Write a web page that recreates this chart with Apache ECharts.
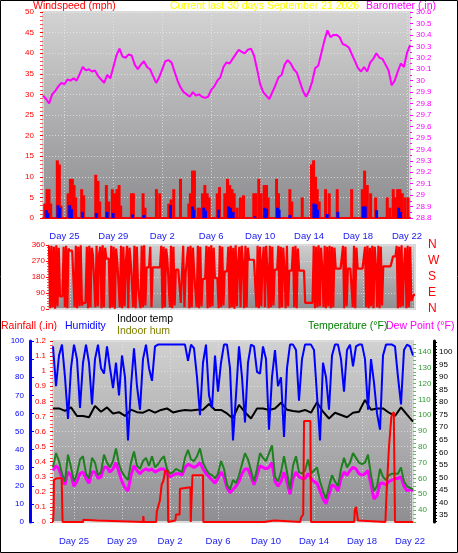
<!DOCTYPE html>
<html><head><meta charset="utf-8">
<script src="https://cdn.jsdelivr.net/npm/echarts@6/dist/echarts.min.js"></script>
<style>html,body{margin:0;padding:0;background:#fff;}#c{width:458px;height:553px;}</style>
</head><body><div id="c"></div>
<script>
// ---------- data (x = days since start of the 30-day window) ----------
const dayLabels = ['Day 25','Day 29','Day 2','Day 6','Day 10','Day 14','Day 18','Day 22'];
const dayTickPos = [1.75,5.75,9.75,13.75,17.75,21.75,25.75,29.75];
const dirNames = {0:'N',90:'E',180:'S',270:'W',360:'N'};
const tempTicks = [40,50,60,70,80,90,100,110,120,130,140];
const indoorTicks = [35,40,45,50,55,60,65,70,75,80,85,90,95,100];

// wind gust spikes [day, mph]
const gustMph = [[0.14,3.5],[0.33,7],[0.49,7],[0.63,3.5],[1.17,14],[1.34,13],[1.47,3],[2.05,6],[2.24,9.5],[2.4,9.5],[2.54,8],[2.67,5],
[3.16,7],[3.33,5.5],[4.31,10.5],[4.5,9],[4.64,4],[5.18,8],[5.37,4],[5.67,7],[5.86,6],[6.05,7],[6.22,8],[6.35,3],[7.23,6],[7.39,6],
[8.18,6],[8.34,2.5],[9.27,7],[9.54,6],[10.28,3.5],[10.47,4.5],[10.69,7],[11.24,9.5],[11.92,3.5],[12.05,6],[12.22,11.5],[12.38,11.5],
[12.68,2.5],[12.87,2.5],[13.04,6],[13.23,8],[13.42,6],[13.58,5],[14.24,6],[14.43,7.5],[14.86,6],[15.08,9.5],[15.27,8],[15.46,7],
[15.63,6],[15.87,2.5],[16.14,5],[16.39,5.5],[17.23,6],[17.4,6],[17.64,9.5],[17.83,6],[18.08,8],[18.27,8],[18.41,5],[19.09,9.5],
[19.25,6],[20.18,7],[20.34,4],[21.19,5],[21.95,13],[22.12,14],[22.28,10],[22.42,7],[22.58,4],[23.1,7],[23.4,6],[24.05,7],[25.23,7],
[26.1,7],[26.29,11.5],[26.51,8],[26.78,6],[27.19,5],[28.14,5],[28.36,2.5],[28.63,7],[28.8,5],[28.99,7],[29.18,7],[29.37,6],[29.59,5],[29.84,5]];
// average wind [day, mph]
const avgMph = [[0.27,1.9],[0.41,1.2],[1.23,3.1],[1.36,2.5],[2.18,3.1],[2.32,2.2],[3.22,1.5],[4.36,1.2],[5.24,1.5],[5.73,1.2],[7.31,0.9],
[8.24,0.7],[10.42,3.1],[12.22,2.8],[12.33,2],[13.14,2.5],[13.28,1.8],[14.34,2],[15.16,2.8],[15.33,2.5],[15.54,1.5],[17.3,0.4],
[18.13,2.5],[18.27,2.2],[19.17,2.5],[19.3,2],[20.18,0.7],[22.14,3.5],[22.31,3.3],[22.44,2],[23.23,1],[24.1,1.5],[26.18,2.8],
[26.34,2.8],[27.27,1.9],[29.07,2.5],[29.23,1.5]];
// barometer, one reading every 0.25 day
const baroIn = [29.87,29.84,29.80,29.88, 29.91,29.95,29.98,29.97, 30.01,30.00,30.02,30.00, 30.06,30.12,30.09,30.10,
30.08,30.09,30.04,30.01, 29.98,30.05,30.02,30.12, 30.22,30.28,30.21,30.20, 30.23,30.22,30.14,30.10,
30.14,30.17,30.12,30.10, 30.04,29.98,30.03,30.10, 30.17,30.18,30.16,30.08, 30.00,29.94,29.90,29.88,
29.86,29.90,29.87,29.88, 29.86,29.85,29.86,29.92, 29.95,30.00,30.03,30.12, 30.16,30.15,30.19,30.23,
30.27,30.25,30.24,30.27, 30.28,30.22,30.10,29.97, 29.90,29.87,29.84,29.90, 29.96,30.03,30.05,30.14,
30.18,30.15,30.10,30.07, 29.99,29.91,29.86,29.91, 29.99,30.11,30.13,30.24, 30.35,30.44,30.38,30.40,
30.40,30.38,30.32,30.31, 30.29,30.23,30.17,30.11, 30.08,30.12,30.08,30.16, 30.19,30.24,30.20,30.19,
30.14,30.09,29.96,30.00, 30.08,30.15,30.12,30.24, 30.31];
// wind direction (degrees), one reading every 0.1 day
const windDirDeg = [
355,5,355,10,350,2,358,15,345,71, 71,71,350,10,355,5,340,328,328,328,
328,10,355,5,350,15,358,20,34,34, 34,350,5,355,10,345,305,305,10,355,
15,305,350,5,358,10,345,283,283,283, 5,355,10,350,2,340,264,264,10,355,
5,350,15,264,355,5,345,264,264,10, 355,5,350,122,122,5,355,10,358,20,
234,234,234,350,10,234,234,234,234,234, 234,234,355,5,350,10,340,283,283,10,
355,5,350,20,221,221,221,221,34,34, 355,10,202,202,350,5,355,10,345,202,
202,10,355,5,350,15,170,170,170,355, 5,350,10,358,15,345,174,174,174,5,
355,10,350,20,212,212,212,350,5,355, 10,345,2,358,15,259,350,10,355,259,
5,355,10,345,277,277,277,277,277,277, 10,355,5,350,15,270,350,10,355,221,
5,355,10,350,20,221,221,221,355,5, 350,10,345,221,5,355,15,216,216,216,
350,10,355,5,340,216,216,216,216,216, 34,34,34,34,34,34,34,355,5,350,
10,358,15,345,227,10,355,5,350,15, 355,5,350,10,345,227,227,227,227,227,
227,355,5,350,15,227,227,227,227,10, 355,5,345,227,227,227,227,227,227,350,
10,355,5,345,15,355,5,350,240,10, 355,5,350,20,240,240,240,240,240,240,
240,240,296,296,296,355,5,350,10,358, 15,240,345,5,355,10,350,45,45,80, 80];
// humidity %, every 0.25 day
const humidityPct = [97,75,92,98, 80,57,85,98, 90,63,88,98, 88,65,90,98, 85,82,97,85, 74,88,70,92, 80,45,75,96, 75,62,90,98,
85,78,97,98, 98,98,98,98, 98,98,98,98, 98,89,98,96, 80,59,88,98, 70,63,92,72, 88,98,98,85, 45,70,97,80, 55,88,98,97,
83,82,97,90, 51,80,95,75, 80,47,85,98, 98,95,67,90, 98,98,98,95, 70,45,88,80, 62,92,98,98, 90,72,95,98, 86,97,98,98,
90,62,90,77, 60,51,92,98, 98,98,97,80, 65,95,98,97, 92];
// indoor temperature °F, every 0.5 day
const indoorTempF = [77.5,77.5,76.5,77.9,74.5,74.5,74,78.5,76.2,77.9,75.5,76,74.5,77,76,75.8,76.9,75.8,76.9,77.5,75.9,76.5,
76.9,76.7,77,77,79.3,76.9,76.9,75.5,73.5,78.9,76,73.5,77.5,77.5,76.9,77.5,79.8,77,76.5,76.2,76.9,75.8,80,76.2,73.5,75.8,
74.9,74,75.8,76.2,80.9,77,77.5,77.5,75.8,74.5,77.9,75,72.2];
// outdoor temperature °F, every 0.25 day
const tempF = [67,76,71,63, 58,75,67,58, 63,72,74,63, 60,73,70,62, 64,75,70,67, 71,79,69,64, 61,59,70,77, 68,66,71,73,
68,74,67,69, 72,74,66,63, 64,66,65,64, 73,78,72,71, 74,79,70,66, 63,62,60,63, 71,66,56,53, 59,57,62,69, 76,72,65,58,
66,76,73,71, 76,81,61,58, 64,74,64,53, 68,74,64,63, 65,72,63,65, 67,58,52,47, 55,62,58,55, 66,73,67,70, 76,73,70,69,
70,75,62,52, 55,66,61,59, 62,63,63,63, 67,58,55,54, 53];
// dew point °F, every 0.25 day
const dewPointF = [65,68,66,60, 56,64,62,55, 58,63,64,60, 57,64,64,60, 61,67,67,64, 66,70,64,58, 54,52,62,68, 65,63,65,66,
65,66,64,65, 66,66,63,61, 62,63,63,62, 67,69,68,67, 68,70,66,63, 61,59,57,60, 64,61,54,51, 53,55,58,63, 66,66,61,56,
62,68,67,66, 67,70,58,55, 58,64,58,50, 60,64,61,60, 60,63,60,58, 57,52,47,44, 50,56,55,52, 60,64,62,65, 67,66,63,62,
63,65,56,47, 49,57,57,56, 58,59,60,60, 61,55,52,53, 52];
// rainfall (in) [day, inches]
const rainIn = [[0,0],[0.03,0],[0.05,0.07],[0.08,0.28],[0.3,0.29],[0.72,0.29],[0.8,0],[2.5,0],[2.53,0.015],[2.67,0.01],[3.64,0.01],
[3.7,0],[7.5,0],[7.53,0.04],[7.57,0],[8.6,0],[8.65,0.07],[8.9,0.14],[9.06,0.25],[9.19,0.27],[9.35,0.34],[9.55,0.34],[9.6,0],
[9.65,0.01],[10.2,0.01],[10.25,0.05],[10.55,0.05],[10.58,0.22],[10.7,0.23],[11.45,0.23],[11.48,0],[11.58,0],[11.62,0.31],
[12.5,0.31],[12.53,0],[17.6,0],[17.65,0.01],[18.45,0.01],[18.5,0],[20.6,0],[20.67,0.03],[20.85,0.05],[20.92,0.67],[21.45,0.67],
[21.5,0],[25.1,0],[25.15,0.08],[25.25,0.1],[25.35,0.1],[25.42,0.01],[25.5,0],[27.7,0],[27.8,0.2],[28.0,0.5],[28.2,0.7],
[28.4,0.73],[28.47,0.73],[28.5,0],[30,0]];

// ---------- chart ----------
const FONT = 'Liberation Sans, Arial, sans-serif';
const withStep = (arr, step) => arr.map((v, i) => [i * step, v]);
const tickRange = (a, b, s) => { const r = []; for (let v = a; v <= b + 1e-9; v += s) r.push(+v.toFixed(2)); return r; };
const dayFmt = v => { let k = 0, b = 1e9; dayTickPos.forEach((p, i) => { if (Math.abs(p - v) < b) { b = Math.abs(p - v); k = i; } }); return dayLabels[k]; };
const grad = (a, b) => new echarts.graphic.LinearGradient(0, 0, 0, 1, [{offset: 0, color: a}, {offset: 1, color: b}]);
const dotted = {show: true, lineStyle: {color: 'rgba(235,235,235,0.7)', type: [1, 2], width: 1}};
const LBL = 8;

function xAx(gi, showLabels) {
  return {
    type: 'value', gridIndex: gi, min: 0, max: 30,
    axisLine: {show: gi === 0, onZero: false, lineStyle: {color: '#ff0000', width: 2}},
    axisTick: {show: false, customValues: dayTickPos},
    axisLabel: {show: showLabels, customValues: dayTickPos, formatter: dayFmt, color: '#2020f0', fontFamily: FONT, fontSize: 9.5, margin: gi === 0 ? 13 : 14},
    splitLine: dotted
  };
}
function yAx(c, extra) {
  return Object.assign({
    type: 'value', axisLine: {show: false},
    axisTick: {show: true, length: 3, lineStyle: {color: c}},
    minorTick: {show: true, splitNumber: 2, length: 2, lineStyle: {color: c}},
    axisLabel: {color: c, fontFamily: FONT, fontSize: LBL},
    splitLine: {show: false}
  }, extra);
}

const option = {
  animation: false,
  backgroundColor: '#ffffff',
  grid: [
    {left: 43, right: 48, top: 12, bottom: 335, show: true, backgroundColor: grad('#d3d3d3', '#8c8c90'), borderColor: '#d8d8d8', borderWidth: 2},
    {left: 49, right: 43, top: 245, bottom: 244, show: true, backgroundColor: grad('#cfcfcf', '#8e8e92'), borderColor: '#d8d8d8', borderWidth: 2},
    {left: 53, right: 45, top: 341, bottom: 31, show: true, backgroundColor: grad('#d2d2d2', '#8e8e92'), borderColor: '#d8d8d8', borderWidth: 2}
  ],
  xAxis: [xAx(0, true), xAx(1, false), xAx(2, true)],
  yAxis: [
    yAx('#ff0000', {gridIndex: 0, position: 'left', min: 0, max: 50, interval: 5,
      axisLabel: {color: '#ff0000', fontFamily: FONT, fontSize: LBL, margin: 9}, splitLine: dotted,
      minorTick: {show: true, splitNumber: 5, length: 3, lineStyle: {color: '#ff5050'}}}),
    yAx('#ff00ff', {gridIndex: 0, position: 'right', min: 28.8, max: 30.6, interval: 0.1,
      axisLabel: {color: '#ff00ff', fontFamily: FONT, fontSize: LBL, margin: 6}}),
    yAx('#ff0000', {gridIndex: 1, position: 'left', min: 0, max: 360, interval: 90,
      axisLabel: {color: '#ff0000', fontFamily: FONT, fontSize: LBL, margin: 4}, splitLine: dotted,
      minorTick: {show: true, splitNumber: 6, length: 2, lineStyle: {color: '#ff5050'}}}),
    {type: 'value', gridIndex: 1, position: 'right', min: 0, max: 360, interval: 90,
      axisLine: {show: false}, axisTick: {show: false}, splitLine: {show: false},
      axisLabel: {color: '#ff0000', fontFamily: FONT, fontSize: 12, margin: 13, formatter: v => dirNames[v]}},
    yAx('#ff0000', {gridIndex: 2, position: 'left', min: 0, max: 1.2, interval: 0.1,
      axisLabel: {color: '#ff0000', fontFamily: FONT, fontSize: LBL, margin: 7}, splitLine: dotted,
      minorTick: {show: true, splitNumber: 4, length: 3, lineStyle: {color: '#ff5050'}}}),
    {type: 'value', gridIndex: 2, position: 'left', offset: 23, min: 0, max: 100, interval: 10,
      axisLine: {show: true, lineStyle: {color: '#0000ff', width: 3}},
      axisTick: {show: true, inside: true, length: 4, lineStyle: {color: '#0000ff'}},
      minorTick: {show: true, splitNumber: 5, length: 2, lineStyle: {color: '#0000ff'}},
      axisLabel: {color: '#0000ff', fontFamily: FONT, fontSize: LBL, margin: 6}, splitLine: {show: false}},
    {type: 'value', gridIndex: 2, position: 'right', min: 32.4, max: 147,
      axisLine: {show: false},
      axisTick: {show: true, customValues: tickRange(32.5, 145, 2.5), length: 3, lineStyle: {color: '#60b860'}},
      axisLabel: {customValues: tempTicks, color: '#2e9a2e', fontFamily: FONT, fontSize: LBL, margin: 5}, splitLine: {show: false}},
    {type: 'value', gridIndex: 2, position: 'right', offset: 21, min: 32.2, max: 104.4,
      axisLine: {show: true, lineStyle: {color: '#000000', width: 3}},
      axisTick: {show: true, customValues: tickRange(32.5, 104, 1.25), length: 3, lineStyle: {color: '#000000'}},
      axisLabel: {customValues: indoorTicks, color: '#000000', fontFamily: FONT, fontSize: LBL, margin: 5}, splitLine: {show: false}}
  ],
  series: [
    {name: 'Gust', type: 'bar', xAxisIndex: 0, yAxisIndex: 0, data: gustMph, barWidth: 3, barGap: '-100%', itemStyle: {color: '#ff0000'}, z: 3},
    {name: 'Wind', type: 'bar', xAxisIndex: 0, yAxisIndex: 0, data: avgMph, barWidth: 3, barGap: '-100%', itemStyle: {color: '#0000ff'}, z: 4},
    {name: 'Barometer', type: 'line', xAxisIndex: 0, yAxisIndex: 1, data: withStep(baroIn, 0.25), showSymbol: false, lineStyle: {color: '#ff00ff', width: 2}, z: 5},
    {name: 'Direction', type: 'line', xAxisIndex: 1, yAxisIndex: 2, data: withStep(windDirDeg, 0.1), showSymbol: false, lineStyle: {color: '#ff0000', width: 2.2}},
    {name: 'Dew Point', type: 'line', xAxisIndex: 2, yAxisIndex: 6, data: withStep(dewPointF, 0.25), showSymbol: false, lineStyle: {color: '#ff00ff', width: 3}, z: 2},
    {name: 'Temperature', type: 'line', xAxisIndex: 2, yAxisIndex: 6, data: withStep(tempF, 0.25), showSymbol: false, lineStyle: {color: '#1f801f', width: 2}, z: 3},
    {name: 'Indoor temp', type: 'line', xAxisIndex: 2, yAxisIndex: 7, data: withStep(indoorTempF, 0.5), showSymbol: false, lineStyle: {color: '#000000', width: 2}, z: 4},
    {name: 'Humidity', type: 'line', xAxisIndex: 2, yAxisIndex: 5, data: withStep(humidityPct, 0.25), showSymbol: false, lineStyle: {color: '#0000ff', width: 2}, z: 5},
    {name: 'Rainfall', type: 'line', xAxisIndex: 2, yAxisIndex: 4, data: rainIn, showSymbol: false, lineStyle: {color: '#ff0000', width: 2}, z: 6}
  ],
  graphic: [
    {type: 'rect', shape: {x: 0.5, y: 0.5, width: 457, height: 552}, style: {fill: 'none', stroke: '#000', lineWidth: 1}, silent: true},
    {type: 'text', left: 33, top: 1, style: {text: 'Windspeed (mph)', fill: '#ff0000', font: '10.5px ' + FONT}},
    {type: 'text', left: 170, top: 1, style: {text: 'Current last 30 days September 21 2026', fill: '#ffff00', font: '10.5px ' + FONT}},
    {type: 'text', left: 366, top: 1, style: {text: 'Barometer (.in)', fill: '#ff00ff', font: '10.5px ' + FONT}},
    {type: 'text', left: 1, top: 321, style: {text: 'Rainfall (.in)', fill: '#ff0000', font: '10.5px ' + FONT}},
    {type: 'text', left: 65, top: 321, style: {text: 'Humidity', fill: '#0000ff', font: '10.5px ' + FONT}},
    {type: 'text', left: 117, top: 314, style: {text: 'Indoor temp', fill: '#000000', font: '10.5px ' + FONT}},
    {type: 'text', left: 117, top: 326, style: {text: 'Indoor hum', fill: '#808000', font: '10.5px ' + FONT}},
    {type: 'text', left: 308, top: 321, style: {text: 'Temperature (°F)', fill: '#008000', font: '10.5px ' + FONT}},
    {type: 'text', left: 386, top: 321, style: {text: 'Dew Point (°F)', fill: '#ff00ff', font: '10.5px ' + FONT}}
  ]
};
const chart = echarts.init(document.getElementById('c'), null, {renderer: 'canvas'});
chart.setOption(option);
</script></body></html>
